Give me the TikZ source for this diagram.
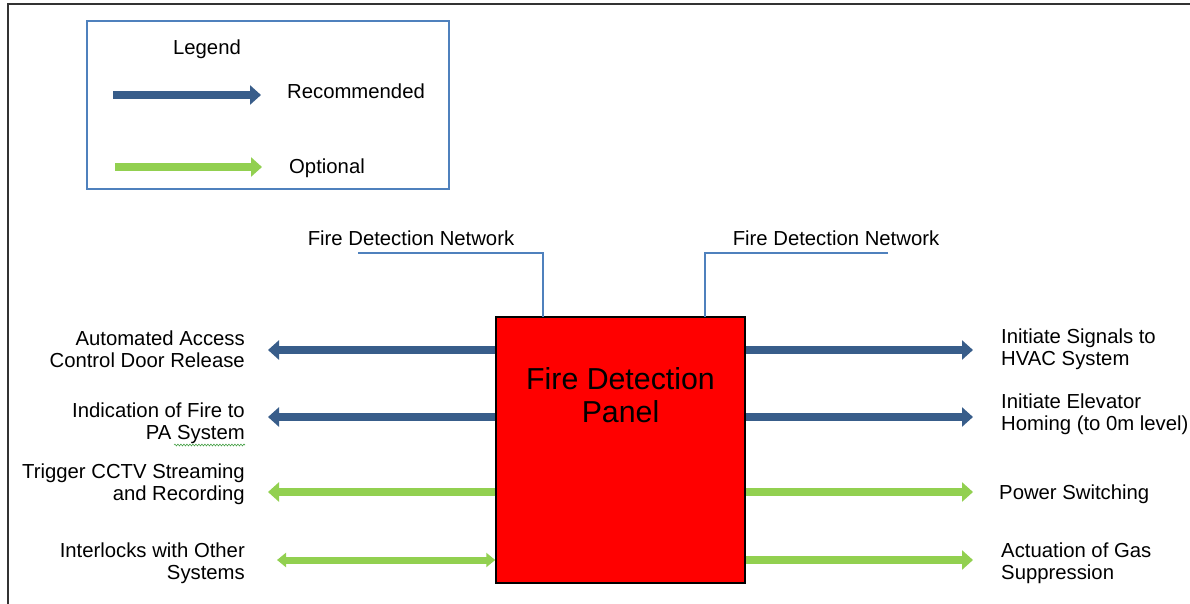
\documentclass[tikz,border=0pt]{standalone}
\usepackage{fontspec}
\setmainfont{Liberation Sans}
\usetikzlibrary{arrows.meta,decorations.pathmorphing}
\definecolor{recblue}{RGB}{56,93,138}
\definecolor{optgreen}{RGB}{146,208,80}
\definecolor{lineblue}{RGB}{79,129,189}
\definecolor{squiggle}{RGB}{70,160,70}
\begin{document}
\begin{tikzpicture}[x=1pt,y=-1pt,
  lbl/.style={inner sep=0pt, font=\fontsize{20.3}{22}\selectfont},
  rec/.style={draw=recblue, line width=8pt, -{Triangle[width=19pt,length=11pt]}},
  opt/.style={draw=optgreen, line width=8pt, -{Triangle[width=19pt,length=11pt]}},
  optboth/.style={draw=optgreen, line width=7pt, {Triangle[width=14pt,length=9pt]}-{Triangle[width=14pt,length=9pt]}},
  net/.style={draw=lineblue, line width=1.3pt},
  frame/.style={draw=black!80, line width=2pt},
]
\useasboundingbox (0,0) rectangle (1190,604);
% outer frame (top and left edges only)
\draw[frame] (8,604) -- (8,4) -- (1190,4);

% legend
\node[draw=lineblue, line width=1.2pt, minimum width=362pt, minimum height=168pt, inner sep=0pt] (legend) at (268,105) {};
\node[lbl] (legtitle) at (207,49) {Legend};
\coordinate (lr1) at (113,95);
\coordinate (lr2) at (261,95);
\draw[rec] (lr1) -- (lr2);
\node[lbl, anchor=west] (legrec) at (287,91) {Recommended};
\coordinate (lo1) at (115,167);
\coordinate (lo2) at (262,167);
\draw[opt] (lo1) -- (lo2);
\node[lbl, anchor=west] (legopt) at (289,168) {Optional};

% panel
\node[draw=black, fill=red, line width=1.5pt, minimum width=249pt, minimum height=266pt, inner sep=0pt] (panel) at (620.5,450) {};
\node[inner sep=0pt, align=center, font=\fontsize{30.3}{33}\selectfont] (paneltxt) at (620.5,395) {Fire Detection\\Panel};

% fire detection network
\node[lbl] (netL) at (411,238.5) {Fire Detection Network};
\node[lbl] (netR) at (836,238.5) {Fire Detection Network};
\coordinate (nL) at (358,253);
\coordinate (nR) at (888,253);
\coordinate (pL) at (543,317);
\coordinate (pR) at (705,317);
\draw[net] (nL) -| (pL);
\draw[net] (nR) -| (pR);

% left labels
\node[lbl, anchor=east, align=right] (L1) at (245,349) {Automated Access\\Control Door Release};
\node[lbl, anchor=east, align=right] (L2) at (245,423) {Indication of Fire to\\PA System};
\node[lbl, anchor=east, align=right] (L3) at (245,484.5) {Trigger CCTV Streaming\\and Recording};
\node[lbl, anchor=east, align=right] (L4) at (245,563.5) {Interlocks with Other\\Systems};
\draw[draw=squiggle, line width=0.6pt, decorate, decoration={snake, amplitude=0.9pt, segment length=3pt}] (174,445) -- (245,445);

% right labels
\node[lbl, anchor=west, align=left] (R1) at (1001,349) {Initiate Signals to\\HVAC System};
\node[lbl, anchor=west, align=left] (R2) at (1001,414.5) {Initiate Elevator\\Homing (to 0m level)};
\node[lbl, anchor=west, align=left] (R3) at (999,494) {Power Switching};
\node[lbl, anchor=west, align=left] (R4) at (1001,563) {Actuation of Gas\\Suppression};

% arrow tips
\coordinate (tL1) at (268,350);
\coordinate (tL2) at (268,417);
\coordinate (tL3) at (268,492);
\coordinate (tL4) at (277,560);
\coordinate (tR1) at (973,350);
\coordinate (tR2) at (973,417);
\coordinate (tR3) at (973,492);
\coordinate (tR4) at (973,560);

% connectors
\draw[rec] (panel.west |- tL1) -- (tL1);
\draw[rec] (panel.west |- tL2) -- (tL2);
\draw[opt] (panel.west |- tL3) -- (tL3);
\draw[optboth] (tL4) -- (panel.west |- tL4);
\draw[rec] (panel.east |- tR1) -- (tR1);
\draw[rec] (panel.east |- tR2) -- (tR2);
\draw[opt] (panel.east |- tR3) -- (tR3);
\draw[opt] (panel.east |- tR4) -- (tR4);
\end{tikzpicture}
\end{document}
